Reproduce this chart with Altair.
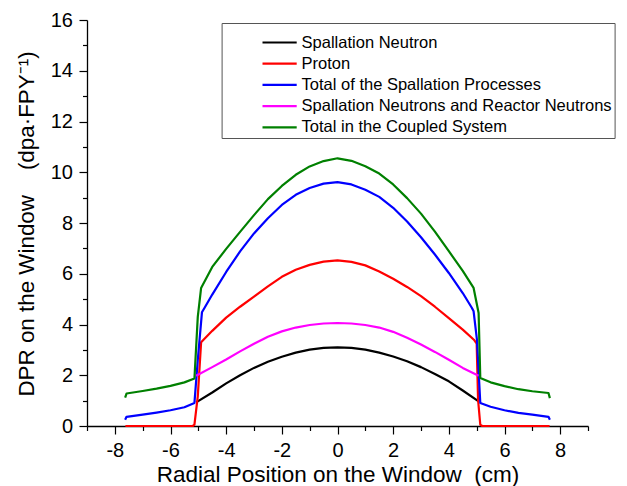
import altair as alt
import pandas as pd

# ---------------- data ----------------
series_names = [
    "Spallation Neutron",
    "Proton",
    "Total of the Spallation Processes",
    "Spallation Neutrons and Reactor Neutrons",
    "Total in the Coupled System",
]
series_colors = ["#000000", "#ff0000", "#0000ff", "#ff00ff", "#008000"]

# Spallation Neutron (black)
black_x = [-5.08, -4.5, -4.0, -3.5, -3.0, -2.5, -2.0, -1.5, -1.0, -0.5, 0.0,
           0.5, 1.0, 1.5, 2.0, 2.5, 3.0, 3.5, 4.0, 4.5, 5.07]
black_y = [0.93, 1.32, 1.68, 2.00, 2.29, 2.53, 2.73, 2.89, 3.01, 3.08, 3.10,
           3.08, 3.01, 2.89, 2.74, 2.55, 2.32, 2.05, 1.76, 1.40, 0.97]

# Proton (red)
red_x = [-7.62, -5.2, -5.14, -5.02, -4.9, -4.5, -4.0, -3.5, -3.0, -2.5, -2.0,
         -1.5, -1.0, -0.5, 0.0, 0.5, 1.0, 1.5, 2.0, 2.5, 3.0, 3.5, 4.0, 4.5,
         4.9, 5.0, 5.05, 5.13, 5.2, 7.62]
red_y = [0.0, 0.0, 0.05, 1.17, 3.30, 3.75, 4.27, 4.70, 5.10, 5.50, 5.88,
         6.16, 6.35, 6.48, 6.53, 6.47, 6.33, 6.09, 5.80, 5.48, 5.12, 4.70, 4.25, 3.80,
         3.40, 3.25, 1.04, 0.05, 0.0, 0.0]

# Total of the Spallation Processes (blue)
blue_x = [-7.63, -7.58, -7.0, -6.5, -6.0, -5.5, -5.14, -5.02, -4.87, -4.78, -4.5,
          -4.0, -3.5, -3.0, -2.5, -2.0, -1.5, -1.0, -0.5, 0.0, 0.5, 1.0, 1.5,
          2.0, 2.5, 3.0, 3.5, 4.0, 4.5, 4.83, 4.89, 5.01, 5.13, 5.5, 6.0, 6.5,
          7.0, 7.58, 7.63]
blue_y = [0.25, 0.36, 0.45, 0.53, 0.62, 0.74, 0.91, 2.60, 4.48, 4.65, 5.18,
          6.07, 6.88, 7.59, 8.19, 8.71, 9.11, 9.38, 9.55, 9.61, 9.52, 9.31, 9.03,
          8.60, 8.06, 7.44, 6.76, 6.03, 5.24, 4.65, 4.52, 3.40, 0.91, 0.76, 0.62, 0.52,
          0.45, 0.36, 0.25]

# Spallation Neutrons and Reactor Neutrons (magenta)
mag_x = [-5.08, -4.5, -4.0, -3.5, -3.0, -2.5, -2.0, -1.5, -1.0, -0.5, 0.0,
         0.5, 1.0, 1.5, 2.0, 2.5, 3.0, 3.5, 4.0, 4.5, 5.07]
mag_y = [1.98, 2.32, 2.62, 2.94, 3.24, 3.52, 3.73, 3.88, 3.98, 4.04, 4.06,
         4.04, 3.98, 3.88, 3.71, 3.48, 3.21, 2.92, 2.61, 2.29, 1.98]

# Total in the Coupled System (green)
green_x = [-7.63, -7.58, -7.0, -6.5, -6.0, -5.5, -5.14, -5.02, -4.9, -4.5, -4.0,
           -3.5, -3.0, -2.5, -2.0, -1.5, -1.0, -0.5, 0.0, 0.5, 1.0, 1.5, 2.0,
           2.5, 3.0, 3.5, 4.0, 4.5, 4.89, 5.07, 5.13, 5.5, 6.0, 6.5, 7.0, 7.58, 7.63]
green_y = [1.12, 1.28, 1.38, 1.47, 1.58, 1.72, 1.87, 4.30, 5.44, 6.27, 6.98,
           7.65, 8.31, 8.94, 9.46, 9.90, 10.23, 10.44, 10.55, 10.45, 10.24, 9.95, 9.52,
           8.98, 8.37, 7.66, 6.89, 6.11, 5.44, 4.45, 1.89, 1.72, 1.57, 1.45, 1.37, 1.30, 1.10]

x_ticks = list(range(-9, 10))
y_ticks = list(range(0, 17))

rows = []
for name, xs, ys in zip(series_names,
                        [black_x, red_x, blue_x, mag_x, green_x],
                        [black_y, red_y, blue_y, mag_y, green_y]):
    for i, (xv, yv) in enumerate(zip(xs, ys)):
        rows.append({"series": name, "x": xv, "y": yv, "i": i})
df = pd.DataFrame(rows)

FONT = "Liberation Sans"

chart = alt.Chart(df).mark_line(strokeWidth=2.2, strokeJoin="round").encode(
    x=alt.X(
        "x:Q",
        scale=alt.Scale(domain=[-9, 9], nice=False, zero=False),
        axis=alt.Axis(
            values=x_ticks,
            title="Radial Position on the Window\u00a0\u00a0(cm)",
            labelExpr="datum.value % 2 == 0 ? '' + datum.value : ''",
            tickSize={"condition": {"test": "datum.value % 2 != 0", "value": 4.5}, "value": 8},
            labelFontSize=20,
            labelPadding=6,
            titleFontSize=22.5,
            titleY=55.4,
            titleBaseline="alphabetic",
        ),
    ),
    y=alt.Y(
        "y:Q",
        scale=alt.Scale(domain=[0, 16], nice=False),
        axis=alt.Axis(
            values=y_ticks,
            title="DPR on the Window\u00a0\u00a0\u00a0\u00a0(dpa\u00b7FPY\u207b\u00b9)",
            labelExpr="datum.value % 2 == 0 ? '' + datum.value : ''",
            tickSize={"condition": {"test": "datum.value % 2 != 0", "value": 4.5}, "value": 8},
            labelFontSize=20,
            labelPadding=6.5,
            titleFontSize=22.4,
            titleAngle=270,
            titleX=-54,
            titleY=203.5,
            titleBaseline="alphabetic",
            titleAlign="center",
        ),
    ),
    color=alt.Color(
        "series:N",
        scale=alt.Scale(domain=series_names, range=series_colors),
        sort=series_names,
        legend=alt.Legend(
            title=" ",
            titleFontSize=5,
            titlePadding=2,
            orient="none",
            legendX=134.6,
            legendY=3,
            padding=2,
            strokeColor="#555555",
            fillColor="white",
            symbolType="M-1.9,0L1.9,0",
            symbolSize=324,
            symbolStrokeWidth=2.2,
            symbolOffset=45.5,
            labelOffset=11.5,
            labelFont=FONT,
            labelFontSize=16.5,
            labelColor="black",
            labelLimit=400,
            rowPadding=2.2,
        ),
    ),
    order="i:Q",
).properties(
    width=501,
    height=406,
    autosize=alt.AutoSizeParams(type="none"),
    padding={"left": 87, "top": 20, "right": 39, "bottom": 60},
).configure_view(
    stroke=None
).configure_axis(
    grid=False,
    domainColor="black",
    domainWidth=1.3,
    tickColor="black",
    tickWidth=1.2,
    labelColor="black",
    titleColor="black",
    labelFont=FONT,
    titleFont=FONT,
    titleFontWeight="normal",
)

chart.save("out.html", embed_options={"renderer": "svg", "actions": False})
